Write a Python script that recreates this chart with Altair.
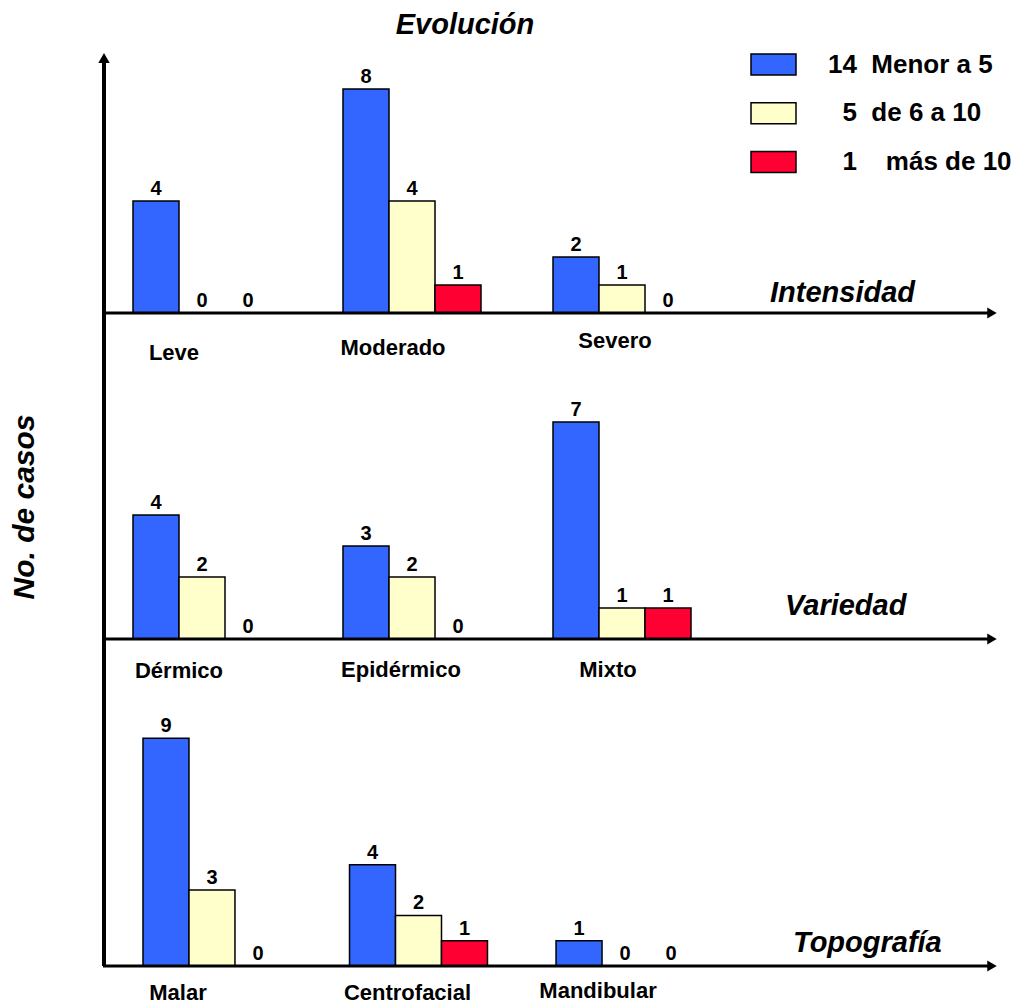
import altair as alt
import pandas as pd

FONT = "Liberation Sans"

# ---- data ----
series_names = ["Menor a 5", "de 6 a 10", "más de 10"]
series_totals = [14, 5, 1]
series_colors = ["#3366FF", "#FFFFCC", "#FF0033"]

intensidad_cats = ["Leve", "Moderado", "Severo"]
intensidad_menor5 = [4, 8, 2]
intensidad_6a10 = [0, 4, 1]
intensidad_mas10 = [0, 1, 0]

variedad_cats = ["Dérmico", "Epidérmico", "Mixto"]
variedad_menor5 = [4, 3, 7]
variedad_6a10 = [2, 2, 1]
variedad_mas10 = [0, 0, 1]

topografia_cats = ["Malar", "Centrofacial", "Mandibular"]
topografia_menor5 = [9, 4, 1]
topografia_6a10 = [3, 2, 0]
topografia_mas10 = [0, 1, 0]

NB = "\u00a0"
ZW = "\u200b"
legend_labels = [
    f"{series_totals[0]}{NB*2}{series_names[0]}",
    f"{ZW}{NB*2}{series_totals[1]}{NB*2}{series_names[1]}",
    f"{ZW}{NB*2}{series_totals[2]}{NB*4}{series_names[2]}",
]


def panel(cats, vals, y_range, x_range, pad_inner, title, title_x, title_dy,
          label_dx, label_dy, legend):
    rows = []
    for lab, arr in zip(legend_labels, vals):
        for c, v in zip(cats, arr):
            rows.append({"cat": c, "serie": lab, "val": v})
    df = pd.DataFrame(rows)

    x = alt.X("cat:N", sort=cats, axis=None,
              scale=alt.Scale(range=x_range, paddingInner=pad_inner, paddingOuter=0))
    xo = alt.XOffset("serie:N", sort=legend_labels,
                     scale=alt.Scale(paddingInner=0, paddingOuter=0))
    y = alt.Y("val:Q", axis=None,
              scale=alt.Scale(domain=[0, 10], range=y_range, nice=False, zero=True))
    color = alt.Color("serie:N", sort=legend_labels,
                      scale=alt.Scale(domain=legend_labels, range=series_colors),
                      legend=legend)

    base = alt.Chart(df)
    bars = base.mark_bar(stroke="black", strokeWidth=1.5, opacity=1).encode(
        x=x, xOffset=xo, y=y, color=color)
    nums = base.mark_text(font=FONT, fontSize=20, fontWeight="bold",
                          baseline="alphabetic", dy=-6, color="black").encode(
        x=x, xOffset=xo, y=y, text="val:Q")

    cat_df = pd.DataFrame({"cat": cats, "val": [0] * len(cats)})
    label_layers = []
    for c, ddx, ddy in zip(cats, label_dx, label_dy):
        label_layers.append(
            alt.Chart(cat_df).transform_filter(alt.datum.cat == c).mark_text(
                font=FONT, fontSize=22, fontWeight="bold", baseline="alphabetic",
                dx=ddx, dy=ddy, color="black").encode(x=x, y=y, text="cat:N"))

    axis_df = pd.DataFrame({"val": [0]})
    line = alt.Chart(axis_df).mark_rule(color="black", strokeWidth=3).encode(
        x=alt.value(103), x2=alt.value(989), y=y)
    head = alt.Chart(axis_df).mark_point(shape="triangle-right", filled=True,
                                         color="black", size=120, opacity=1).encode(
        x=alt.value(992), y=y)
    ttl = alt.Chart(pd.DataFrame({"val": [0], "t": [title]})).mark_text(
        font=FONT, fontSize=29, fontWeight="bold", fontStyle="italic", align="left",
        baseline="alphabetic", dy=title_dy, color="black").encode(
        x=alt.value(title_x), y=y, text="t:N")
    return alt.layer(bars, nums, *label_layers, line, head, ttl)


legend = alt.Legend(
    title=None, orient="none", legendX=750, legendY=41,
    symbolType="M-1,-0.467L1,-0.467L1,0.467L-1,0.467Z", symbolSize=2025,
    symbolStrokeColor="black", symbolStrokeWidth=1.5, symbolOpacity=1,
    labelFont=FONT, labelFontSize=26, labelFontWeight="bold", labelColor="black",
    labelOffset=31, rowPadding=10.75, labelLimit=400)

p1 = panel(intensidad_cats, [intensidad_menor5, intensidad_6a10, intensidad_mas10],
           [313, 33], [133, 691], 72 / 210, "Intensidad", 770, -11,
           [-28, -19, -7], [47, 42, 35], legend)
p2 = panel(variedad_cats, [variedad_menor5, variedad_6a10, variedad_mas10],
           [639, 329], [133, 691], 72 / 210, "Variedad", 785, -24,
           [-23, -11, -14], [39, 38, 38], None)
p3 = panel(topografia_cats, [topografia_menor5, topografia_6a10, topografia_mas10],
           [966, 713], [143, 694], 0.332, "Topografía", 793, -14,
           [-34, -11, -27], [34, 34, 32], None)

one = pd.DataFrame({"t": ["Evolución"]})
evol = alt.Chart(one).mark_text(font=FONT, fontSize=29, fontWeight="bold",
                                fontStyle="italic", align="center",
                                baseline="alphabetic", color="black").encode(
    x=alt.value(465), y=alt.value(34), text="t:N")
ytitle = alt.Chart(pd.DataFrame({"t": ["No. de casos"]})).mark_text(
    font=FONT, fontSize=30, fontWeight="bold", fontStyle="italic", align="center",
    baseline="middle", angle=270, color="black").encode(
    x=alt.value(25), y=alt.value(507), text="t:N")
yline = alt.Chart(pd.DataFrame({"t": [0]})).mark_rule(color="black", strokeWidth=4).encode(
    x=alt.value(104), y=alt.value(62), y2=alt.value(966))
yhead = alt.Chart(pd.DataFrame({"t": [0]})).mark_point(
    shape="triangle-up", filled=True, color="black", size=130, opacity=1).encode(
    x=alt.value(104), y=alt.value(58))

chart = alt.layer(p1, p2, p3, evol, ytitle, yline, yhead).resolve_scale(
    x="independent", y="independent", xOffset="independent"
).properties(
    width=1019, height=1006, padding=0,
    autosize=alt.AutoSizeParams(type="none"),
).configure_view(stroke=None)

chart.save("out.html", embed_options={"renderer": "svg", "actions": False})
